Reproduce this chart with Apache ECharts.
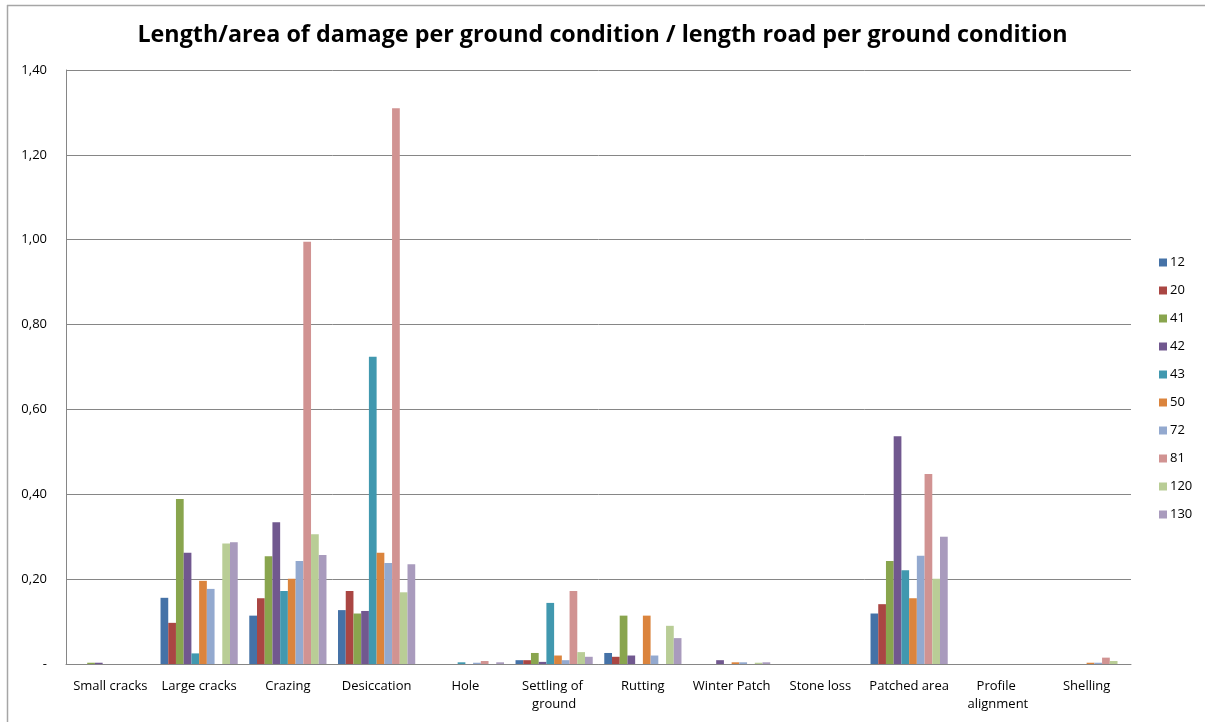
<!DOCTYPE html>
<html>
<head>
<meta charset="utf-8">
<script src="https://cdn.jsdelivr.net/npm/echarts@6/dist/echarts.min.js"></script>
<style>
html,body{margin:0;padding:0;background:#fff;}
#chart{width:1205px;height:722px;}
</style>
</head>
<body>
<div id="chart"></div>
<script>
const titleText = 'Length/area of damage per ground condition / length road per ground condition';
const categories = ['Small cracks', 'Large cracks', 'Crazing', 'Desiccation', 'Hole', 'Settling of ground', 'Rutting', 'Winter Patch', 'Stone loss', 'Patched area', 'Profile alignment', 'Shelling'];
const seriesNames = ['12', '20', '41', '42', '43', '50', '72', '81', '120', '130'];
const colors = ['#4572A7', '#AA4643', '#89A54E', '#71588F', '#4198AF', '#DB843D', '#93A9CF', '#D19392', '#B9CD96', '#A99BBD'];

const s12  = [0,     0.156, 0.114, 0.127, 0,     0.009, 0.026, 0,     0, 0.119, 0, 0];
const s20  = [0,     0.097, 0.155, 0.172, 0,     0.009, 0.017, 0,     0, 0.141, 0, 0];
const s41  = [0.003, 0.389, 0.254, 0.119, 0,     0.026, 0.114, 0,     0, 0.243, 0, 0];
const s42  = [0.003, 0.262, 0.334, 0.125, 0,     0.005, 0.020, 0.009, 0, 0.537, 0, 0];
const s43  = [0,     0.025, 0.172, 0.724, 0.004, 0.144, 0,     0,     0, 0.221, 0, 0];
const s50  = [0,     0.196, 0.201, 0.262, 0,     0.020, 0.114, 0.004, 0, 0.155, 0, 0.003];
const s72  = [0,     0.177, 0.243, 0.238, 0.003, 0.009, 0.020, 0.004, 0, 0.255, 0, 0.003];
const s81  = [0,     0,     0.995, 1.310, 0.007, 0.172, 0,     0,     0, 0.448, 0, 0.015];
const s120 = [0,     0.284, 0.306, 0.169, 0,     0.028, 0.090, 0.003, 0, 0.201, 0, 0.007];
const s130 = [0,     0.287, 0.257, 0.235, 0.004, 0.017, 0.061, 0.004, 0, 0.300, 0, 0];
const allValues = [s12, s20, s41, s42, s43, s50, s72, s81, s120, s130];

const yTicks = ['-', '0,20', '0,40', '0,60', '0,80', '1,00', '1,20', '1,40'];

const chart = echarts.init(document.getElementById('chart'), null, {renderer: 'canvas'});
const font = '"Open Sans", Lato, sans-serif';

const series = seriesNames.map((n, i) => ({
  name: n,
  type: 'bar',
  data: allValues[i],
  barGap: '0%',
  barCategoryGap: '13%',
  itemStyle: {color: colors[i]},
  emphasis: {disabled: true}
}));

chart.setOption({
  animation: false,
  backgroundColor: '#fff',
  color: colors,
  title: {
    text: titleText,
    left: 'center',
    top: 19,
    textStyle: {fontFamily: font, fontWeight: 'bold', fontSize: 23.3, color: '#000'}
  },
  legend: {
    orient: 'vertical',
    left: 1154,
    top: 251,
    itemWidth: 8,
    itemHeight: 8,
    itemGap: 15,
    icon: 'rect',
    textStyle: {fontFamily: font, fontSize: 13, color: '#000', padding: [0, 0, 0, -2]},
    data: seriesNames
  },
  grid: {left: 66, right: 74, top: 70, bottom: 58, containLabel: false},
  xAxis: {
    type: 'category',
    data: categories,
    axisLine: {lineStyle: {color: '#868686', width: 1}},
    axisTick: {show: false},
    axisLabel: {
      interval: 0,
      fontFamily: font,
      fontSize: 13,
      color: '#000',
      margin: 13,
      width: 86,
      overflow: 'break',
      lineHeight: 18
    }
  },
  yAxis: {
    type: 'value',
    min: 0,
    max: 1.4,
    interval: 0.2,
    axisLine: {show: true, lineStyle: {color: '#868686', width: 1}},
    axisTick: {show: false},
    splitLine: {lineStyle: {color: '#868686', width: 1}},
    axisLabel: {
      fontFamily: font,
      fontSize: 13,
      color: '#000',
      margin: 19,
      formatter: function (v) { return yTicks[Math.round(v / 0.2)]; }
    }
  },
  graphic: [
    {type: 'line', shape: {x1: 7.5, y1: 5, x2: 7.5, y2: 722}, style: {stroke: '#a6a6a6', lineWidth: 1.5}, silent: true},
    {type: 'line', shape: {x1: 7, y1: 5.5, x2: 1205, y2: 5.5}, style: {stroke: '#a6a6a6', lineWidth: 1.5}, silent: true}
  ],
  series: series
});
</script>
</body>
</html>
